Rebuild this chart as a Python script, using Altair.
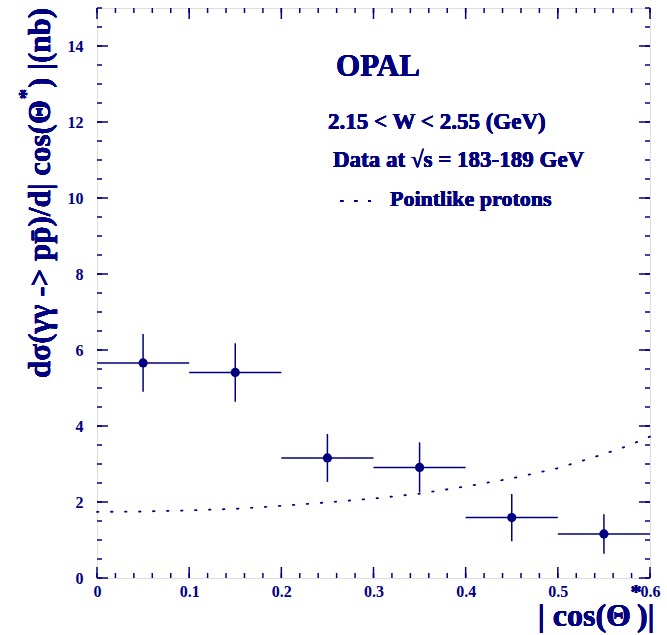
import altair as alt
import numpy as np
import pandas as pd

# Measured differential cross section, 2.15 < W < 2.55 GeV
bin_lo = [0.0, 0.1, 0.2, 0.3, 0.4, 0.5]
bin_hi = [0.1, 0.2, 0.3, 0.4, 0.5, 0.6]
bin_mid = [0.05, 0.15, 0.25, 0.35, 0.45, 0.55]
xsec = [5.66, 5.41, 3.16, 2.91, 1.59, 1.16]
xsec_err = [0.76, 0.77, 0.63, 0.66, 0.62, 0.52]

# Pointlike-proton prediction
model_x = [0.0, 0.05, 0.1, 0.15, 0.2, 0.25, 0.3, 0.35, 0.4, 0.45, 0.5, 0.55, 0.575, 0.6]
model_y = [1.74, 1.75, 1.78, 1.82, 1.90, 1.99, 2.09, 2.22, 2.41, 2.62, 2.89, 3.26, 3.47, 3.72]

x_labels = [0.0, 0.1, 0.2, 0.3, 0.4, 0.5, 0.6]
y_labels = [0, 2, 4, 6, 8, 10, 12, 14]

NAVY = "#000080"
FONT = "Liberation Serif"
W, H = 553, 570

xs = alt.Scale(domain=[0, 0.6], nice=False, zero=False)
ys = alt.Scale(domain=[0, 15], nice=False, zero=False)
x_axis = alt.Axis(values=x_labels, format=".1~f", ticks=False, domain=False, grid=False,
                  labelFont=FONT, labelFontWeight="bold", labelFontSize=16, labelColor=NAVY,
                  labelPadding=5, title=None, labelFlush=False)
y_axis = alt.Axis(values=y_labels, format="d", ticks=False, domain=False, grid=False,
                  labelFont=FONT, labelFontWeight="bold", labelFontSize=16, labelColor=NAVY,
                  labelPadding=14, title=None, labelFlush=False)


def X(f):
    return alt.X(f, type="quantitative", scale=xs, axis=x_axis)


def Y(f):
    return alt.Y(f, type="quantitative", scale=ys, axis=y_axis)


data = pd.DataFrame({"lo": bin_lo, "hi": bin_hi, "x": bin_mid, "y": xsec,
                     "ylo": np.array(xsec) - np.array(xsec_err),
                     "yhi": np.array(xsec) + np.array(xsec_err)})
model = pd.DataFrame({"x": model_x, "y": model_y})

hbars = alt.Chart(data).mark_rule(color=NAVY, strokeWidth=1.5).encode(
    x=X("lo"), x2="hi", y=Y("y"))
vbars = alt.Chart(data).mark_rule(color=NAVY, strokeWidth=1.5).encode(
    x=X("x"), y=Y("ylo"), y2="yhi")
points = alt.Chart(data).mark_circle(color=NAVY, opacity=1, size=85).encode(
    x=X("x"), y=Y("y"))
curve = alt.Chart(model).mark_line(color=NAVY, strokeWidth=1.8, strokeDash=[1.5, 12.5],
                                   strokeCap="round").encode(x=X("x"), y=Y("y"))

# Inward-pointing ticks on all four sides of the frame
xt_major = pd.DataFrame({"v": np.round(np.arange(0, 0.61, 0.1), 3)})
xt_minor = pd.DataFrame({"v": np.round(np.arange(0, 0.61, 0.02), 3)})
yt_major = pd.DataFrame({"v": np.arange(0, 15.1, 2.0)})
yt_minor = pd.DataFrame({"v": np.arange(0, 15.1, 0.5)})

tick_layers = []
for df, L in [(xt_major, 11), (xt_minor, 5)]:
    tick_layers.append(alt.Chart(df).mark_rule(color=NAVY, strokeWidth=1.5).encode(
        x=X("v"), y=alt.value(H), y2=alt.value(H - L)))
    tick_layers.append(alt.Chart(df).mark_rule(color=NAVY, strokeWidth=1.5).encode(
        x=X("v"), y=alt.value(0), y2=alt.value(L)))
for df, L in [(yt_major, 11), (yt_minor, 5)]:
    tick_layers.append(alt.Chart(df).mark_rule(color=NAVY, strokeWidth=1.5).encode(
        y=Y("v"), x=alt.value(0), x2=alt.value(L)))
    tick_layers.append(alt.Chart(df).mark_rule(color=NAVY, strokeWidth=1.5).encode(
        y=Y("v"), x=alt.value(W), x2=alt.value(W - L)))


def text(s, x, y, size, align="left", baseline="middle", angle=0):
    kw = dict(text=s, align=align, baseline=baseline, font=FONT, fontWeight="bold",
              fontSize=size, color=NAVY)
    if angle:
        kw["angle"] = angle
    return alt.Chart(data).mark_text(**kw).encode(x=alt.value(x), y=alt.value(y))


labels = [
    text("OPAL", 281, 59, 31, align="center"),
    text("2.15 < W < 2.55 (GeV)", 231, 114, 23),
    text("Data at \u221as = 183-189 GeV", 236, 152, 23),
    text("Pointlike protons", 293, 191, 22),
    # x-axis title with superscript star
    text("| cos(\u0398", 534, 618, 32, align="right", baseline="alphabetic"),
    text("*", 539, 574, 22, align="center", baseline="top"),
    text(")", 540, 618, 32, align="left", baseline="alphabetic"),
    text("|", 554, 618, 32, align="center", baseline="alphabetic"),
    # y-axis title, rotated
    text("d\u03c3(\u03b3\u03b3 -> pp\u0304)/d| cos(\u0398", -47, 92, 31,
         align="right", baseline="alphabetic", angle=270),
    text("*", -81, 86, 21, align="center", baseline="top", angle=270),
    text(") |(nb)", -47, 80, 31, align="left", baseline="alphabetic", angle=270),
]

legend_dots = alt.Chart(data).mark_rule(color=NAVY, strokeWidth=1.8, strokeDash=[1.5, 12.5],
                                        strokeCap="round").encode(
    x=alt.value(244), x2=alt.value(273), y=alt.value(193))

chart = alt.layer(curve, hbars, vbars, points, *tick_layers, legend_dots, *labels).properties(
    width=W, height=H,
    autosize=alt.AutoSizeParams(type="none"),
    padding={"left": 97, "top": 8, "right": 17, "bottom": 57},
).configure_view(stroke=NAVY, strokeWidth=2).configure(background="white")

chart.save("out.html", embed_options={"renderer": "svg", "actions": False})
